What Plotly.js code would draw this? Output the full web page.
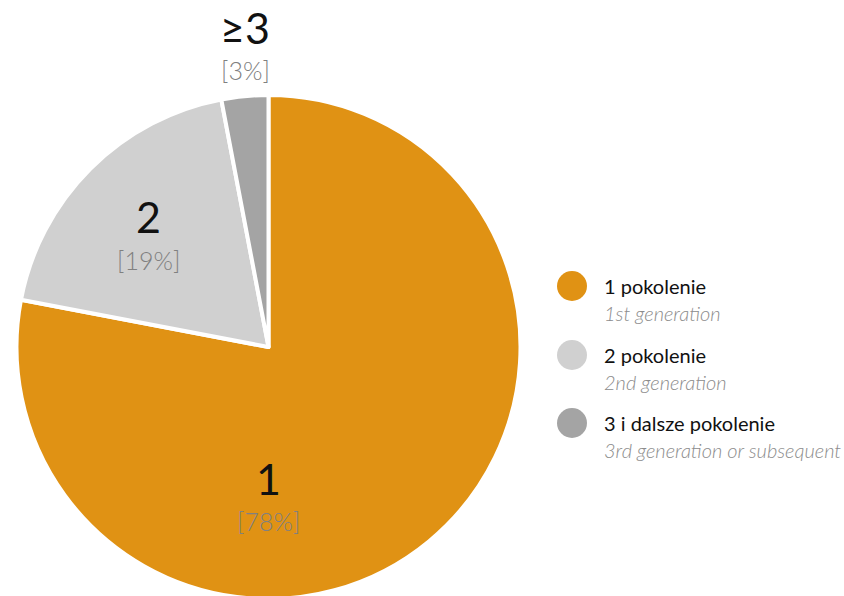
<!DOCTYPE html>
<html><head><meta charset="utf-8">
<script src="https://cdn.plot.ly/plotly-3.0.1.min.js"></script>
<style>html,body{margin:0;padding:0;background:#fff;overflow:hidden;}#chart{width:844px;height:602px;}</style>
</head><body><div id="chart"></div>
<script>
const categories = ["1 pokolenie", "2 pokolenie", "3 i dalsze pokolenie"];
const subtitles = ["1st generation", "2nd generation", "3rd generation or subsequent"];
const sliceNames = ["1", "2", "≥3"];
const values = [78, 19, 3];
const colors = ["#E09214", "#D0D0D0", "#A4A4A4"];

const W = 844, H = 602;
const px = x => x / W, py = y => 1 - y / H;

// label positions (pixels) for each slice
const labelPos = [[268, 478], [148, 217], [245, 27]];
const legendY = [286, 355, 423];

const annotations = [];
values.forEach((v, i) => {
  annotations.push({x: px(labelPos[i][0]), y: py(labelPos[i][1]), xref: 'paper', yref: 'paper',
    text: sliceNames[i], showarrow: false, xanchor: 'center', yanchor: 'middle',
    font: {family: 'Lato', size: 43, color: '#111'}});
  annotations.push({x: px(labelPos[i][0]), y: py(labelPos[i][1] + 43), xref: 'paper', yref: 'paper',
    text: '[' + v + '%]', showarrow: false, xanchor: 'center', yanchor: 'middle',
    font: {family: 'Lato', size: 25, color: '#808080', weight: 300}});
  annotations.push({x: px(602), y: py(legendY[i]), xref: 'paper', yref: 'paper',
    text: categories[i], showarrow: false, xanchor: 'left', yanchor: 'middle',
    font: {family: 'Lato', size: 20, color: '#111'}});
  annotations.push({x: px(602), y: py(legendY[i] + 27), xref: 'paper', yref: 'paper',
    text: '<i>' + subtitles[i] + '</i>', showarrow: false, xanchor: 'left', yanchor: 'middle',
    font: {family: 'Lato', size: 20, color: '#8c8c8c', weight: 300}});
});

const shapes = legendY.map((y, i) => ({type: 'circle', xref: 'paper', yref: 'paper',
  x0: px(557), x1: px(587), y0: py(y - 15), y1: py(y + 15),
  fillcolor: colors[i], line: {width: 0}}));

const trace = {
  type: 'pie', values: values, labels: categories, sort: false, direction: 'clockwise', rotation: 0,
  marker: {colors: colors, line: {color: '#fff', width: 4}},
  textinfo: 'none', hoverinfo: 'none', showlegend: false,
  domain: {x: [px(16.5), px(520.5)], y: [py(599), py(95)]}
};

Plotly.newPlot('chart', [trace], {
  width: W, height: H, margin: {l: 0, r: 0, t: 0, b: 0},
  paper_bgcolor: '#fff', showlegend: false,
  annotations: annotations, shapes: shapes
}, {staticPlot: true});
</script></body></html>
